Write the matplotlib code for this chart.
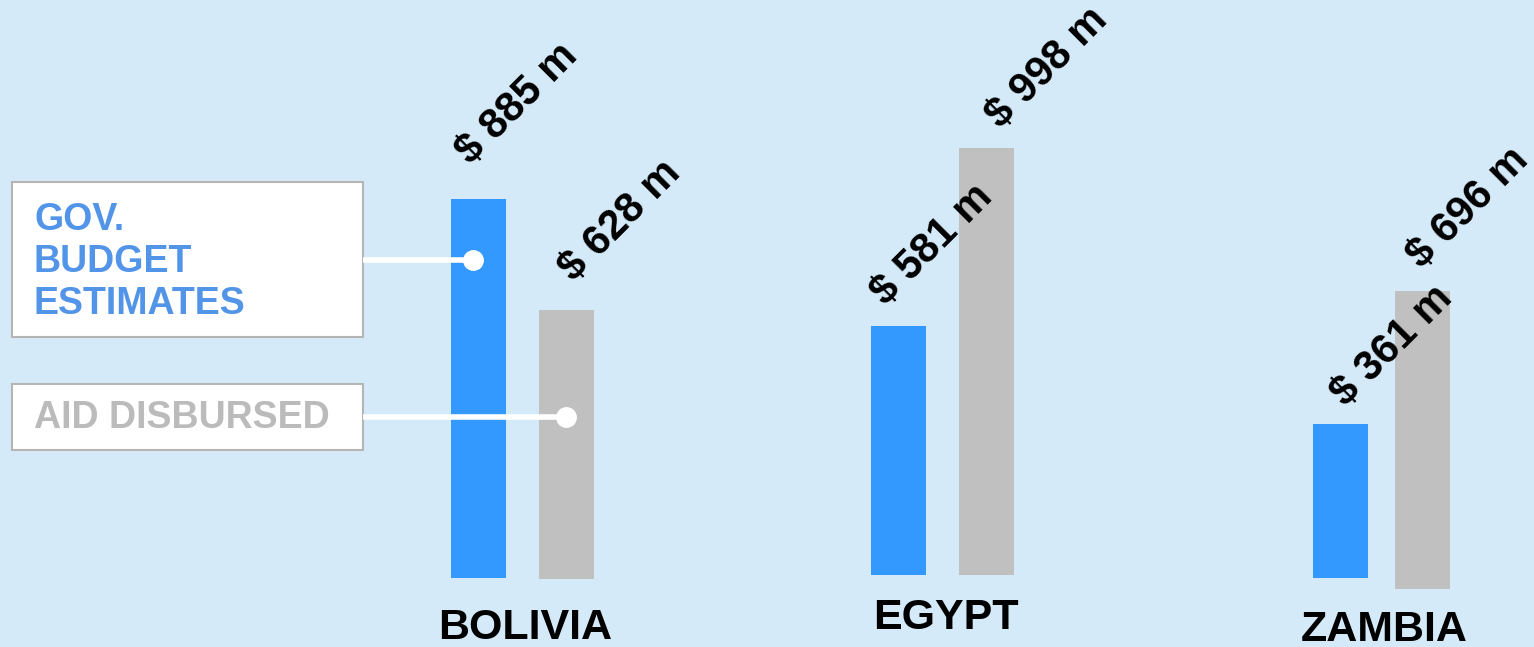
import matplotlib
matplotlib.use("Agg")
import matplotlib.pyplot as plt
from matplotlib.patches import Rectangle

# ---- data ----
countries = ["BOLIVIA", "EGYPT", "ZAMBIA"]
gov_budget = [885, 581, 361]      # $ m
aid_disbursed = [628, 998, 696]   # $ m
series_names = ["GOV.\nBUDGET\nESTIMATES", "AID DISBURSED"]

# ---- layout / style ----
W, H, DPI = 1534, 647, 100
BG = "#d5eaf8"
BLUE = "#3399ff"
GRAY = "#c0c0c0"
LEG_BLUE = "#5294e8"
LEG_GRAY = "#bbbbbb"
FONT = "Liberation Sans"

px_per_unit = 0.428
base_px = 578
group_centers = [522.5, 942.5, 1381.5]
bar_offsets = [44, 44, 41]
bar_w = 55
blue_base_shift = [0, 7, -1]      # value units, hand-drawn baseline jitter
gray_base_shift = [-2, 7, -26]
label_y_px = [628, 618, 630]
# per-label placement (pixels): horizontal shift and height above bar top
blue_lbl_dx = [-1, -6, 12]
blue_lbl_dy = [35, 21, 18]
gray_lbl_dx = [14, 21, 6]
gray_lbl_dy = [29, 20, 23]

fig = plt.figure(figsize=(W / DPI, H / DPI), dpi=DPI, facecolor=BG)
ax = fig.add_axes([0, 0, 1, 1])
ax.set_facecolor(BG)
ax.set_xlim(0, W)
ax.set_ylim(-(H - base_px) / px_per_unit, base_px / px_per_unit)
ax.axis("off")

blue_x = [c - o for c, o in zip(group_centers, bar_offsets)]
gray_x = [c + o for c, o in zip(group_centers, bar_offsets)]

ax.bar(blue_x, gov_budget, width=bar_w, bottom=blue_base_shift, color=BLUE, zorder=2)
ax.bar(gray_x, aid_disbursed, width=bar_w, bottom=gray_base_shift, color=GRAY, zorder=2)

for xs, vals, shifts, ldx, ldy in ((blue_x, gov_budget, blue_base_shift, blue_lbl_dx, blue_lbl_dy),
                                   (gray_x, aid_disbursed, gray_base_shift, gray_lbl_dx, gray_lbl_dy)):
    for x, v, s, dx, dy in zip(xs, vals, shifts, ldx, ldy):
        ax.text(x - bar_w / 2 + 27 + dx, v + s + (dy - 8) / px_per_unit, f"$ {v} m",
                rotation=45, rotation_mode="anchor", ha="left", va="bottom",
                fontsize=30, fontweight="bold", family=FONT, color="black", zorder=3)

# overlay in pixel coordinates for the legend call-outs and country labels
ov = fig.add_axes([0, 0, 1, 1])
ov.set_xlim(0, W)
ov.set_ylim(H, 0)
ov.axis("off")
ov.patch.set_alpha(0)

for name, cx, ly in zip(countries, group_centers, label_y_px):
    ov.text(cx + 3, ly, name, ha="center", va="center", fontsize=31,
            fontweight="bold", family=FONT, color="black")

# legend boxes
ov.add_patch(Rectangle((12, 182), 351, 155, facecolor="white", edgecolor="#b5b5b5", lw=1.5, zorder=4))
ov.add_patch(Rectangle((12, 384), 351, 66, facecolor="white", edgecolor="#b5b5b5", lw=1.5, zorder=4))
ov.text(34, 262, series_names[0], ha="left", va="center", fontsize=27, fontweight="bold",
        family=FONT, color=LEG_BLUE, linespacing=1.2, zorder=5)
ov.text(34, 418, series_names[1], ha="left", va="center", fontsize=27, fontweight="bold",
        family=FONT, color=LEG_GRAY, zorder=5)

# connectors
d1x, d1y = blue_x[0] - 6, 260
d2x, d2y = gray_x[0] - 1, 417
ov.plot([363, d1x], [d1y, d1y], color="white", lw=4, solid_capstyle="butt", zorder=5)
ov.plot([363, d2x], [d2y, d2y], color="white", lw=4, solid_capstyle="butt", zorder=5)
ov.plot([d1x], [d1y], "o", color="white", ms=14, zorder=6)
ov.plot([d2x], [d2y], "o", color="white", ms=14, zorder=6)

fig.savefig("out.png", dpi=DPI, facecolor=BG)
